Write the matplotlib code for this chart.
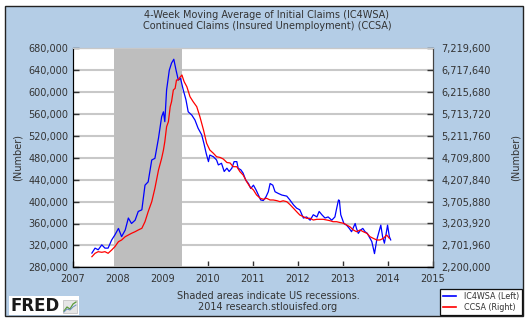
import matplotlib
matplotlib.use('Agg')
import matplotlib.pyplot as plt
from matplotlib.patches import Rectangle
from matplotlib.lines import Line2D
from matplotlib.ticker import FuncFormatter

# ---------------- data ----------------
ic4wsa_t = [2007.42, 2007.49, 2007.56, 2007.64, 2007.71, 2007.78, 2007.86, 2007.93,
            2008.01, 2008.08, 2008.16, 2008.23, 2008.30, 2008.38, 2008.45, 2008.53,
            2008.60, 2008.67, 2008.75, 2008.82, 2008.90, 2008.97, 2009.01, 2009.04,
            2009.08, 2009.14, 2009.19, 2009.24, 2009.29, 2009.34, 2009.39, 2009.45,
            2009.51, 2009.56, 2009.64, 2009.71, 2009.78, 2009.86, 2009.91, 2009.96,
            2010.01, 2010.04, 2010.12, 2010.19, 2010.23, 2010.30, 2010.36, 2010.42,
            2010.47, 2010.53, 2010.58, 2010.64, 2010.67, 2010.73, 2010.78, 2010.84,
            2010.90, 2010.95, 2011.01, 2011.07, 2011.12, 2011.17, 2011.23, 2011.29,
            2011.34, 2011.38, 2011.44, 2011.49, 2011.56, 2011.64, 2011.75, 2011.82,
            2011.90, 2011.97, 2012.04, 2012.12, 2012.19, 2012.27, 2012.34, 2012.42,
            2012.47, 2012.53, 2012.60, 2012.67, 2012.75, 2012.82, 2012.86, 2012.90,
            2012.92, 2012.95, 2013.02, 2013.08, 2013.14, 2013.19, 2013.27, 2013.30,
            2013.34, 2013.39, 2013.44, 2013.49, 2013.54, 2013.58, 2013.64, 2013.70,
            2013.75, 2013.81, 2013.84, 2013.88, 2013.92, 2013.96, 2013.99, 2014.03,
            2014.06]
ic4wsa = [306000, 315000, 312000, 321000, 315000, 315000, 330000, 339000,
          351000, 336000, 348000, 370000, 360000, 366000, 382000, 385000,
          430000, 436000, 476000, 479000, 516000, 555000, 564000, 546000,
          604000, 640000, 653000, 660000, 640000, 622000, 625000, 604000,
          586000, 564000, 558000, 549000, 534000, 522000, 506000, 488000,
          473000, 485000, 482000, 476000, 467000, 470000, 455000, 461000,
          455000, 461000, 473000, 473000, 461000, 458000, 452000, 439000,
          433000, 424000, 430000, 421000, 412000, 403000, 402000, 409000,
          418000, 433000, 430000, 418000, 415000, 412000, 410000, 403000,
          394000, 388000, 385000, 370000, 372000, 366000, 376000, 372000,
          382000, 376000, 370000, 372000, 366000, 372000, 388000, 403000,
          402000, 376000, 360000, 357000, 351000, 345000, 360000, 351000,
          342000, 348000, 351000, 345000, 342000, 336000, 327000, 305000,
          330000, 348000, 357000, 336000, 324000, 342000, 357000, 336000,
          330000]

ccsa_t = [2007.42, 2007.49, 2007.56, 2007.64, 2007.71, 2007.78, 2007.86, 2007.93,
          2008.01, 2008.08, 2008.16, 2008.23, 2008.30, 2008.38, 2008.45, 2008.53,
          2008.60, 2008.67, 2008.75, 2008.82, 2008.90, 2008.97, 2009.01, 2009.04,
          2009.08, 2009.12, 2009.16, 2009.19, 2009.23, 2009.27, 2009.30, 2009.34,
          2009.36, 2009.42, 2009.47, 2009.53, 2009.60, 2009.67, 2009.75, 2009.82,
          2009.90, 2009.97, 2010.04, 2010.12, 2010.19, 2010.27, 2010.34, 2010.42,
          2010.49, 2010.56, 2010.64, 2010.71, 2010.78, 2010.86, 2010.93, 2011.01,
          2011.08, 2011.16, 2011.23, 2011.30, 2011.38, 2011.45, 2011.53, 2011.60,
          2011.67, 2011.75, 2011.82, 2011.90, 2011.97, 2012.04, 2012.12, 2012.19,
          2012.27, 2012.34, 2012.42, 2012.49, 2012.56, 2012.64, 2012.71, 2012.78,
          2012.86, 2012.93, 2013.01, 2013.08, 2013.16, 2013.23, 2013.30, 2013.38,
          2013.45, 2013.53, 2013.60, 2013.67, 2013.75, 2013.82, 2013.90, 2013.97,
          2014.03]
ccsa = [2443000, 2521000, 2558000, 2544000, 2558000, 2521000, 2597000, 2672000,
        2787000, 2826000, 2901000, 2940000, 2979000, 3016000, 3055000, 3094000,
        3245000, 3474000, 3704000, 4011000, 4430000, 4698000, 4889000, 5079000,
        5423000, 5537000, 5881000, 5996000, 6264000, 6303000, 6493000, 6493000,
        6532000, 6608000, 6454000, 6339000, 6110000, 5996000, 5881000, 5652000,
        5347000, 5042000, 4889000, 4813000, 4735000, 4717000, 4682000, 4602000,
        4591000, 4506000, 4506000, 4391000, 4316000, 4162000, 4047000, 3972000,
        3857000, 3782000, 3759000, 3782000, 3743000, 3743000, 3727000, 3704000,
        3724000, 3704000, 3639000, 3552000, 3474000, 3399000, 3360000, 3323000,
        3323000, 3284000, 3300000, 3300000, 3300000, 3284000, 3268000, 3245000,
        3245000, 3227000, 3209000, 3170000, 3124000, 3055000, 3016000, 3055000,
        3016000, 2979000, 2901000, 2865000, 2826000, 2826000, 2865000, 2940000,
        2865000]

recession_start, recession_end = 2007.92, 2009.42
left_ticks = [280000, 320000, 360000, 400000, 440000, 480000,
              520000, 560000, 600000, 640000, 680000]
right_ticks = [2200000, 2701960, 3203920, 3705880, 4207840, 4709800,
               5211760, 5713720, 6215680, 6717640, 7219600]
year_ticks = [2007, 2008, 2009, 2010, 2011, 2012, 2013, 2014, 2015]

title_lines = ["4-Week Moving Average of Initial Claims (IC4WSA)",
               "Continued Claims (Insured Unemployment) (CCSA)"]

# ---------------- figure ----------------
W, H = 530, 321
fig = plt.figure(figsize=(W / 100, H / 100), dpi=100)
fig.patch.set_facecolor('white')
fig.patches.append(Rectangle((5 / W, 1 - 316 / H), 518 / W, 310 / H,
                             transform=fig.transFigure, facecolor='#b4cde6',
                             edgecolor='#222222', lw=1.0, zorder=-10))

txt = '#333333'
ax = fig.add_axes([73 / W, 1 - 267.3 / H, 360 / W, 219 / H])
ax.set_facecolor('white')
ax.set_axisbelow(True)
ax.axvspan(recession_start, recession_end, color='#bebebe', lw=0, zorder=1)
ax.plot(ic4wsa_t, ic4wsa, color='#0000ff', lw=0.9, zorder=3)
ax.set_xlim(2007, 2015)
ax.set_ylim(280000, 680000)
ax.set_xticks(year_ticks)
ax.set_yticks(left_ticks)
ax.yaxis.set_major_formatter(FuncFormatter(lambda v, p: f"{int(round(v)):,}"))
ax.grid(axis='y', color='#c8c8c8', lw=1.5)
ax.tick_params(axis='both', direction='in', length=4, width=1, colors='#333333',
               labelsize=7, labelcolor=txt)
ax.tick_params(axis='x', pad=5)
for s in ['left', 'bottom', 'right']:
    ax.spines[s].set_color('#444444')
ax.spines['top'].set_color('#c8c8c8')
ax.set_ylabel('(Number)', fontsize=7, color=txt, labelpad=4)

ax2 = ax.twinx()
ax2.plot(ccsa_t, ccsa, color='#ff0000', lw=0.9, zorder=3)
ax2.set_ylim(2200000, 7219600)
ax2.set_yticks(right_ticks)
ax2.yaxis.set_major_formatter(FuncFormatter(lambda v, p: f"{int(round(v)):,}"))
ax2.tick_params(axis='y', direction='in', length=4, width=1, colors='#333333',
                labelsize=7, labelcolor=txt, pad=6)
ax2.spines['right'].set_color('#444444')
ax2.spines['top'].set_color('#c8c8c8')
ax2.set_ylabel('(Number)', fontsize=7, color=txt, rotation=90, labelpad=14)
ax2.yaxis.set_label_position('right')

fig.text(267 / W, 1 - 15 / H, title_lines[0], ha='center', va='center',
         fontsize=7, color=txt)
fig.text(267 / W, 1 - 26 / H, title_lines[1], ha='center', va='center',
         fontsize=7, color=txt)

fig.text(268 / W, 1 - 296 / H, "Shaded areas indicate US recessions.",
         ha='center', va='center', fontsize=7, color=txt)
fig.text(268 / W, 1 - 307 / H, "2014 research.stlouisfed.org",
         ha='center', va='center', fontsize=7, color=txt)

# legend
handles = [Line2D([], [], color='#0000ff', lw=1.2),
           Line2D([], [], color='#ff0000', lw=1.2)]
leg = fig.legend(handles, ['IC4WSA (Left)', 'CCSA (Right)'],
                 loc='lower right', bbox_to_anchor=(522 / W, 1 - 315 / H),
                 fontsize=5.8, frameon=True, fancybox=False, edgecolor='#111111',
                 framealpha=1, handlelength=1.6, handletextpad=1.0,
                 borderpad=0.35, borderaxespad=0, labelspacing=0.25)
leg.get_frame().set_linewidth(0.9)
for t in leg.get_texts():
    t.set_color(txt)

# FRED logo
fig.patches.append(Rectangle((9 / W, 1 - 315 / H), 70 / W, 19 / H,
                             transform=fig.transFigure, facecolor='white',
                             edgecolor='none', zorder=1))
fig.text(11 / W, 1 - 306 / H, "FRED", ha='left', va='center', fontsize=12,
         fontweight='heavy', color='#1a1a1a', zorder=2)
fig.patches.append(Rectangle((63 / W, 1 - 313 / H), 14 / W, 13 / H,
                             transform=fig.transFigure, facecolor='#e6e6e6',
                             edgecolor='#bbbbbb', lw=0.5, zorder=2))
fig.lines.append(Line2D([64 / W, 67 / W, 70 / W, 73 / W, 76 / W],
                        [1 - 311 / H, 1 - 307 / H, 1 - 309 / H, 1 - 304 / H, 1 - 302 / H],
                        transform=fig.transFigure, color='#5a9a3a', lw=0.9, zorder=3))
fig.lines.append(Line2D([64 / W, 67 / W, 70 / W, 73 / W, 76 / W],
                        [1 - 312 / H, 1 - 309 / H, 1 - 310 / H, 1 - 307 / H, 1 - 305 / H],
                        transform=fig.transFigure, color='#6a8fc0', lw=0.7, zorder=3))

fig.savefig('out.png', dpi=100, facecolor='white')
